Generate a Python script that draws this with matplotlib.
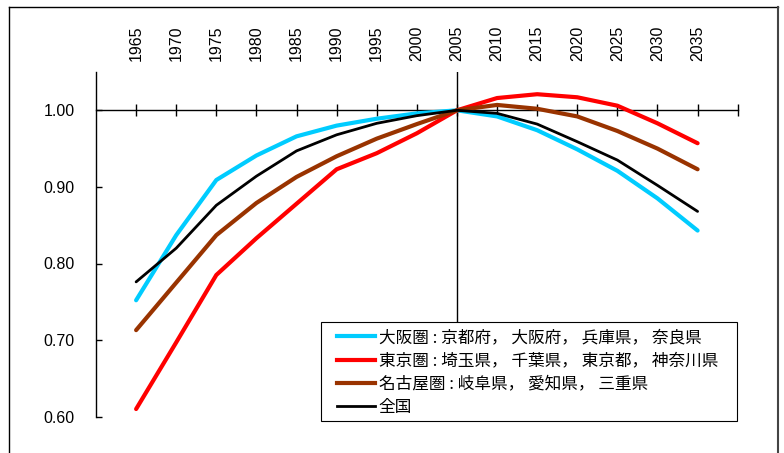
import matplotlib
matplotlib.use("Agg")
import matplotlib.pyplot as plt
from matplotlib.lines import Line2D
from matplotlib.patches import Rectangle

# 2005年 = 1.00 とした人口指数
years = [1965, 1970, 1975, 1980, 1985, 1990, 1995, 2000,
         2005, 2010, 2015, 2020, 2025, 2030, 2035]
osaka = [0.752, 0.837, 0.909, 0.941, 0.966, 0.980, 0.989, 0.996,
         1.000, 0.992, 0.974, 0.949, 0.921, 0.885, 0.843]
tokyo = [0.610, 0.697, 0.785, 0.833, 0.878, 0.923, 0.944, 0.970,
         1.000, 1.016, 1.021, 1.017, 1.006, 0.983, 0.957]
nagoya = [0.713, 0.775, 0.837, 0.879, 0.913, 0.940, 0.963, 0.982,
          1.000, 1.007, 1.002, 0.992, 0.973, 0.950, 0.923]
national = [0.776, 0.820, 0.876, 0.914, 0.947, 0.968, 0.983, 0.993,
            1.000, 0.996, 0.982, 0.959, 0.935, 0.902, 0.868]

series_labels = [
    "大阪圏 : 京都府， 大阪府， 兵庫県， 奈良県",
    "東京圏 : 埼玉県， 千葉県， 東京都， 神奈川県",
    "名古屋圏 : 岐阜県， 愛知県， 三重県",
    "全国",
]
series_colors = ["#00CCFF", "#FF0000", "#993300", "#000000"]
series_widths = [3.0, 3.0, 3.0, 2.0]
y_ticks = [0.60, 0.70, 0.80, 0.90, 1.00]

NUM_FONT = ["Liberation Sans", "DejaVu Sans"]
JP_FONT = ["Noto Sans CJK JP", "DejaVu Sans"]

W, H = 784, 453
fig = plt.figure(figsize=(W / 100, H / 100), dpi=100)


def fx(px):
    return px / W


def fy(py):
    return 1 - py / H


ax = fig.add_axes([fx(96), fy(416.7), fx(737.7) - fx(96), fy(72) - fy(416.7)])
ax.set_xlim(1960, 2040)
ax.set_ylim(0.60, 1.05)

# axes: left value axis, horizontal category axis crossing at 1.00
for side in ("top", "right"):
    ax.spines[side].set_visible(False)
ax.spines["left"].set_linewidth(1.0)
ax.spines["bottom"].set_position(("data", 1.0))
ax.spines["bottom"].set_linewidth(1.0)

ax.set_xticks(list(range(1965, 2041, 5)))
ax.tick_params(axis="x", direction="inout", length=8.4, width=1.0,
               labelbottom=False)
ax.set_yticks(y_ticks)
ax.set_yticklabels([f"{v:.2f}" for v in y_ticks])
ax.tick_params(axis="y", direction="in", length=4, width=1.0, pad=15.5,
               labelsize=11.5)
for t in ax.get_yticklabels():
    t.set_family(NUM_FONT)

# year labels along the top
top = ax.secondary_xaxis("top")
top.set_xticks(years)
top.set_xticklabels([str(y) for y in years])
top.tick_params(length=0, pad=8, labelrotation=90, labelsize=11.5)
top.spines["top"].set_visible(False)
for t in top.get_xticklabels():
    t.set_family(NUM_FONT)

# base year line
ax.axvline(2005, color="black", lw=1.0, zorder=1)

for vals, c, lw in zip([osaka, tokyo, nagoya, national],
                       series_colors, series_widths):
    ax.plot(years, vals, color=c, lw=lw, solid_capstyle="round",
            solid_joinstyle="round", zorder=3)

# legend box
box = Rectangle((fx(320.7), fy(420.7)), fx(737.3) - fx(320.7),
                (420.7 - 322.3) / H, transform=fig.transFigure,
                facecolor="white", edgecolor="black", lw=0.8, zorder=4)
fig.add_artist(box)

handles = [Line2D([], [], color=c, lw=lw)
           for c, lw in zip(series_colors, series_widths)]
fig.legend(handles, series_labels, loc="upper left",
           bbox_to_anchor=(fx(336.5), fy(329)),
           bbox_transform=fig.transFigure, frameon=False, borderpad=0,
           borderaxespad=0, handlelength=2.28, handletextpad=0.26,
           labelspacing=0.38, prop={"family": JP_FONT, "size": 12})

# outer frame
frame_kw = dict(transform=fig.transFigure, color="black", lw=1.0)
fig.add_artist(Line2D([fx(9), fx(9)], [fy(7), -0.01], **frame_kw))
fig.add_artist(Line2D([fx(9), fx(778)], [fy(7), fy(7)], **frame_kw))
fig.add_artist(Line2D([fx(778), fx(778)], [fy(7), -0.01],
                      transform=fig.transFigure, color="#444444", lw=1.5))

fig.savefig("out.png", dpi=100)
